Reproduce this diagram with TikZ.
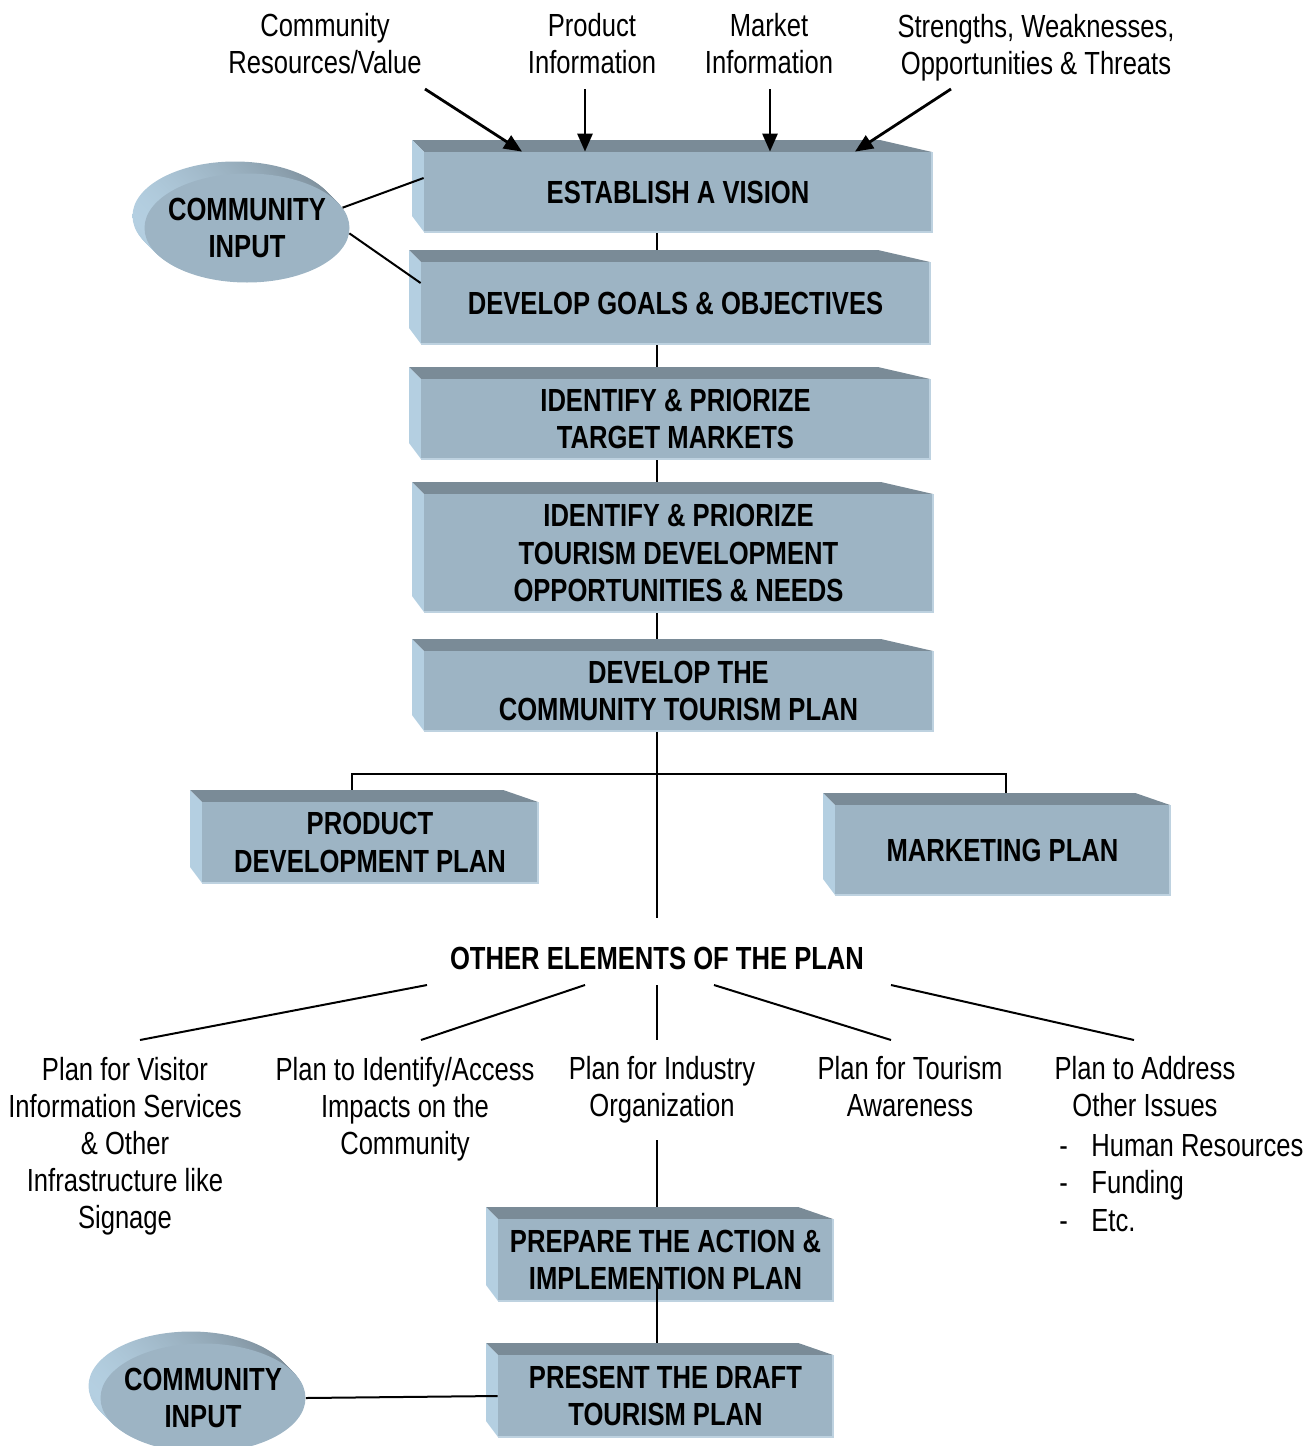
\documentclass[tikz,border=0pt]{standalone}
\usepackage{fontspec}
\setmainfont{Liberation Sans}[FakeStretch=0.8]
\usetikzlibrary{shapes.geometric,arrows.meta}
\pgfdeclarelayer{background}
\pgfsetlayers{background,main}
\definecolor{frontc}{RGB}{157,180,196}
\definecolor{topc}{RGB}{122,139,151}
\definecolor{leftc}{RGB}{180,207,225}
\definecolor{edgec}{RGB}{190,210,224}
\tikzset{
  frontbox/.style={fill=frontc, inner sep=0pt, align=center, text=black,
    font=\bfseries\fontsize{16}{18.75}\selectfont},
  lbl/.style={align=center, inner sep=0pt, font=\fontsize{16}{18.5}\selectfont},
  conn/.style={line width=1pt, black},
  arr/.style={line width=1.4pt, black, -{Triangle[length=9pt,width=7.5pt]}},
  ellnode/.style={ellipse, fill=frontc, inner sep=0pt,
    minimum width=102.5pt, minimum height=54.5pt},
  elltext/.style={align=center, inner sep=0pt, text=black,
    font=\bfseries\fontsize{16}{18.75}\selectfont}
}
\newcommand\bevbox[6]{%
  \pgfmathsetmacro\bw{(#4-#2-12)*0.5}%
  \pgfmathsetmacro\bh{(#5-#3-12)*0.5}%
  \fill[topc] (#2,#3) -- ({#4-0.1*(#4-#2)},#3) -- (#4,#3+12) -- (#2+12,#3+12) -- cycle;
  \fill[leftc] (#2,#3) -- (#2+12,#3+12) -- (#2+12,#5) -- (#2,#5-16) -- cycle;
  \node[frontbox, minimum width=\bw pt, minimum height=\bh pt] (#1)
    at ({(#2+12+#4)/2},{(#3+12+#5)/2}) {#6};
  \draw[edgec, line width=0.8pt] (#2+12,#5) -- (#4,#5) -- (#4,#3+12);
}
\newcommand\ellside[2]{%
  \foreach \i in {0,...,11}
    \shade[left color=leftc, right color=topc] ({#1-12+\i},{#2-12+\i}) ellipse [x radius=102.5, y radius=54.5];
}
\begin{document}
\begin{tikzpicture}[x=0.5pt,y=-0.5pt]
\useasboundingbox (0,0) rectangle (1315,1446);
\clip (0,0) rectangle (1315,1446);

% top labels
\node[lbl] (l1) at (325,44) {Community\\Resources/Value};
\node[lbl] (l2) at (592,44) {Product\\Information};
\node[lbl] (l3) at (769,44) {Market\\Information};
\node[lbl] (l4) at (1036,48) {Strengths, Weaknesses,\\Opportunities \& Threats};

% boxes
\bevbox{vision}{412}{140}{932}{232}{ESTABLISH A VISION}
\bevbox{goals}{409}{250}{930}{344}{DEVELOP GOALS \& OBJECTIVES}
\bevbox{target}{409}{367}{930}{459}{IDENTIFY \& PRIORIZE\\TARGET MARKETS}
\bevbox{opps}{412}{482}{933}{612}{IDENTIFY \& PRIORIZE\\TOURISM DEVELOPMENT\\OPPORTUNITIES \& NEEDS}
\bevbox{ctp}{412}{639}{933}{731}{DEVELOP THE\\COMMUNITY TOURISM PLAN}
\bevbox{prod}{190}{790}{538}{883}{PRODUCT\\DEVELOPMENT PLAN}
\bevbox{mkt}{823}{793}{1170}{895}{MARKETING PLAN}
\bevbox{action}{486}{1207}{833}{1301}{PREPARE THE ACTION \&\\IMPLEMENTION PLAN}
\bevbox{draft}{486}{1343}{833}{1437}{PRESENT THE DRAFT\\TOURISM PLAN}

% community input ellipses
\ellside{247}{228}
\node[ellnode] (ci1) at (247,228) {};
\node[elltext] (ci1t) at (ci1.center) {COMMUNITY\\INPUT};
\ellside{203}{1398}
\node[ellnode] (ci2) at (203,1398) {};
\node[elltext] (ci2t) at (ci2.center) {COMMUNITY\\INPUT};

% other elements
\node[lbl, font=\bfseries\fontsize{16}{18.75}\selectfont] (other) at (657,958) {OTHER ELEMENTS OF THE PLAN};
\node[lbl] (p1) at (125,1146) {Plan for Visitor\\Information Services\\\& Other\\Infrastructure like\\Signage};
\node[lbl] (p2) at (405,1109) {Plan to Identify/Access\\Impacts on the\\Community};
\node[lbl] (p3) at (662,1090) {Plan for Industry\\Organization};
\node[lbl] (p4) at (910,1087) {Plan for Tourism\\Awareness};
\node[lbl] (p5) at (1145,1087) {Plan to Address\\Other Issues};
\node[lbl, align=left, anchor=west, font=\fontsize{16}{18.75}\selectfont] (p5list) at (1059,1183)
  {\makebox[16pt][l]{-}Human Resources\\\makebox[16pt][l]{-}Funding\\\makebox[16pt][l]{-}Etc.};

% coordinates
\coordinate (sp) at (657,0);
\coordinate (spend) at (657,918);
\coordinate (b1) at (352,774);
\coordinate (b2) at (1006,774);
\coordinate (s1) at (425,89);
\coordinate (s2) at (585,89);
\coordinate (s3) at (770,89);
\coordinate (s4) at (951,89);
\coordinate (t1) at (522,0);
\coordinate (t4) at (855,0);
\coordinate (o1) at (427,985);
\coordinate (o2) at (585,985);
\coordinate (o3) at (657,985);
\coordinate (o4) at (714,985);
\coordinate (o5) at (891,985);
\coordinate (e1) at (140,1040);
\coordinate (e2) at (421,1040);
\coordinate (e3) at (657,1040);
\coordinate (e4) at (891,1040);
\coordinate (e5) at (1134,1040);
\coordinate (s5) at (657,1140);
\coordinate (s6) at (657,1285);

\begin{pgfonlayer}{background}
\draw[conn] (vision.south -| sp) -- (goals.north -| sp);
\draw[conn] (goals.south -| sp) -- (target.north -| sp);
\draw[conn] (target.south -| sp) -- (opps.north -| sp);
\draw[conn] (opps.south -| sp) -- (ctp.north -| sp);
\draw[conn] (ctp.south -| sp) -- (spend);
\draw[conn] (b1 |- prod.north) -- (b1) -- (b2) -- (b2 |- mkt.north);
\draw[conn] (s5) -- (action.north -| s5);
\end{pgfonlayer}

\draw[conn] (s6) -- ([yshift=6pt]draft.north -| s6);

% arrows
\draw[arr] (s1) -- (vision.north -| t1);
\draw[arr] (s2) -- (vision.north -| s2);
\draw[arr] (s3) -- (vision.north -| s3);
\draw[arr] (s4) -- (vision.north -| t4);

% community input links
\draw[conn] (ci1.12) -- ([yshift=7pt]vision.west);
\draw[conn] (ci1.-3) -- ([yshift=10pt]goals.west);
\draw[conn] (ci2.east) -- (draft.west);

% fan
\draw[conn] (o1) -- (e1);
\draw[conn] (o2) -- (e2);
\draw[conn] (o3) -- (e3);
\draw[conn] (o4) -- (e4);
\draw[conn] (o5) -- (e5);
\end{tikzpicture}
\end{document}
